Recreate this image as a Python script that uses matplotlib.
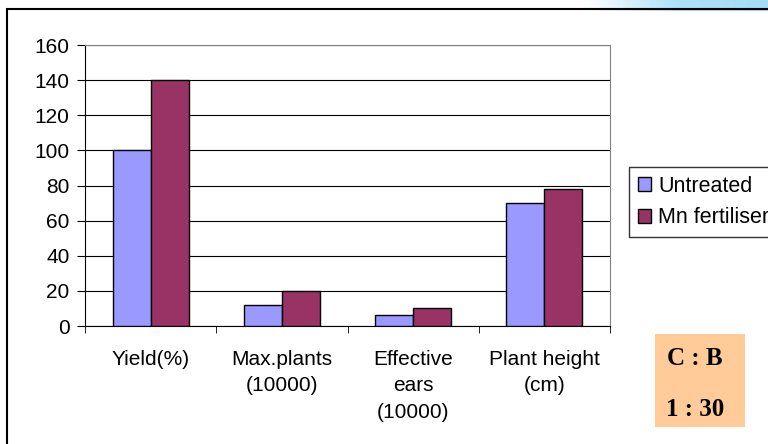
import numpy as np
import matplotlib.pyplot as plt
from matplotlib.patches import Rectangle

plt.rcParams['font.family'] = ['Liberation Sans', 'DejaVu Sans']

categories = ["Yield(%)", "Max.plants\n(10000)", "Effective\nears\n(10000)", "Plant height\n(cm)"]
untreated = [100, 12, 6, 70]
mn_fertiliser = [140, 20, 10, 78]
yticks = [0, 20, 40, 60, 80, 100, 120, 140, 160]

fig = plt.figure(figsize=(7.68, 4.44), dpi=100)

# light blue strip at the top right
grad = fig.add_axes([0.76, 0.975, 0.24, 0.025])
grad.imshow(np.linspace(0, 1, 256)[None, :], aspect='auto',
            cmap=plt.matplotlib.colors.LinearSegmentedColormap.from_list(
                "g", ["#ffffff", "#aee0fa", "#a6dcf8"]))
grad.axis('off')

# outer frame
fig.patches.append(Rectangle((0.009, -0.01), 1.1, 0.99, transform=fig.transFigure,
                             fill=False, edgecolor='black', linewidth=1.5))

ax = fig.add_axes([85 / 768, 1 - 326 / 444, 525 / 768, 281 / 444])
x = np.arange(len(categories))
w = 0.29
ax.bar(x - w / 2, untreated, w, color='#9999FF', edgecolor='black', linewidth=1,
       label='Untreated', zorder=3)
ax.bar(x + w / 2, mn_fertiliser, w, color='#993366', edgecolor='black', linewidth=1,
       label='Mn fertiliser', zorder=3)

ax.set_xlim(-0.5, len(categories) - 0.5)
ax.set_ylim(0, 160)
ax.set_yticks(yticks)
ax.yaxis.grid(True, color='black', linewidth=0.8, zorder=0)
ax.tick_params(axis='y', length=6, labelsize=15, direction='out', pad=5)

ax.set_xticks(x)
ax.set_xticklabels(categories, fontsize=15, linespacing=1.5)
ax.tick_params(axis='x', length=0, pad=17)
ax.set_xticks(np.arange(len(categories) + 1) - 0.5, minor=True)
ax.tick_params(axis='x', which='minor', length=5, direction='out')

for s in ['top', 'right']:
    ax.spines[s].set_color('gray')
ax.spines['left'].set_color('black')
ax.spines['bottom'].set_color('black')

ax.legend(loc='upper left', bbox_to_anchor=(629 / 768, 1 - 167 / 444),
          bbox_transform=fig.transFigure, fontsize=15.5, frameon=True, fancybox=False,
          edgecolor='black', handlelength=0.6, handleheight=0.6, handletextpad=0.35,
          borderpad=0.4, labelspacing=0.5, borderaxespad=0)

fig.patches.append(Rectangle((655 / 768, 1 - 427 / 444), 90 / 768, 93 / 444,
                             transform=fig.transFigure, facecolor='#FFCC99',
                             edgecolor='none'))
fig.text(695 / 768, 1 - 358 / 444, "C : B", ha='center', va='center', fontsize=18,
         fontweight='bold', family='Liberation Serif')
fig.text(695 / 768, 1 - 409 / 444, "1 : 30", ha='center', va='center', fontsize=18,
         fontweight='bold', family='Liberation Serif')

fig.savefig("out.png", dpi=100)
